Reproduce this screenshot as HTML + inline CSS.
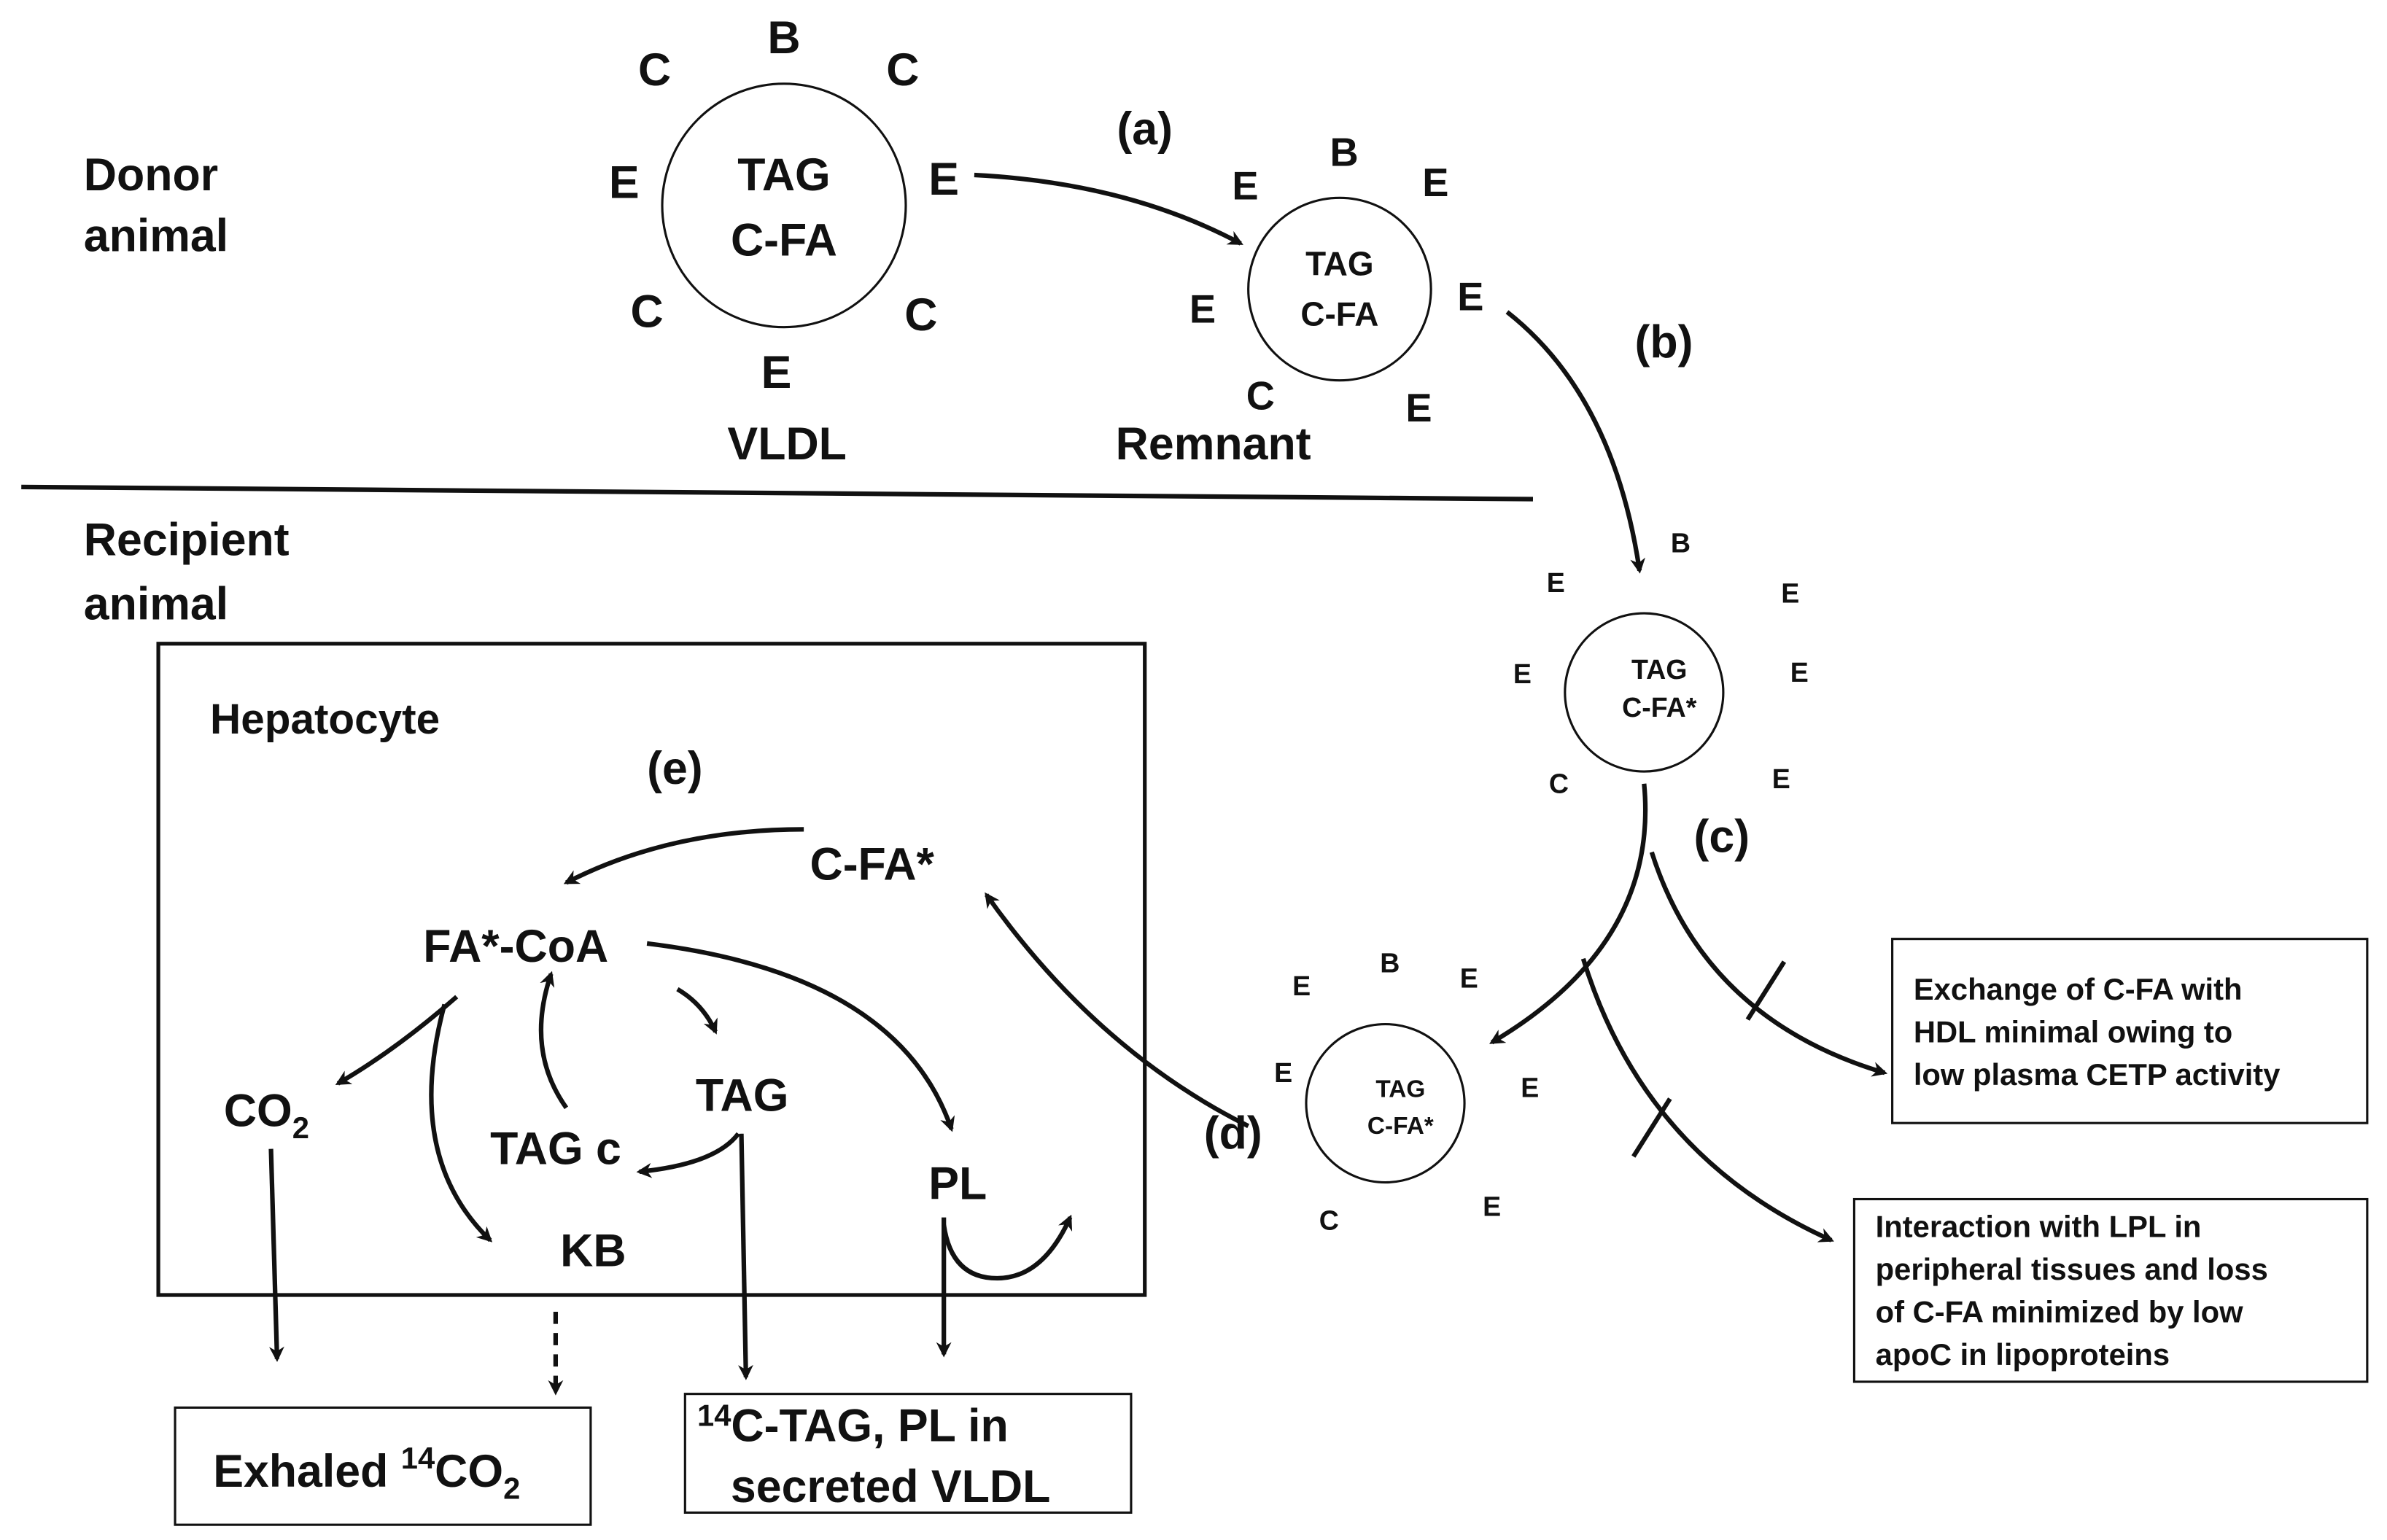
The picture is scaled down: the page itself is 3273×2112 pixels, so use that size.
<!DOCTYPE html>
<html><head><meta charset="utf-8"><style>
html,body{margin:0;padding:0;background:#fff;}
svg{display:block;}
text{font-family:"Liberation Sans","DejaVu Sans",sans-serif;font-weight:bold;fill:#111;}
</style></head><body>
<svg width="3273" height="2112" viewBox="0 0 1568 1012" preserveAspectRatio="none" xmlns="http://www.w3.org/2000/svg">
<defs>
<marker id="ah" markerWidth="10" markerHeight="10" refX="8" refY="5" orient="auto" markerUnits="userSpaceOnUse">
<path d="M0,0 L10,5 L0,10 L3,5 Z" fill="#111"/></marker>
</defs>
<g fill="none" stroke="#111" stroke-width="3">
<!-- top -->
<circle cx="515" cy="135" r="80" stroke-width="1.5"/>
<circle cx="880" cy="190" r="60" stroke-width="1.5"/>
<circle cx="1080" cy="455" r="52" stroke-width="1.5"/>
<circle cx="910" cy="725" r="52" stroke-width="1.5"/>
<path d="M640,115 Q740,120 815,160" marker-end="url(#ah)"/>
<path d="M990,205 Q1060,260 1077,375" marker-end="url(#ah)"/>
<line x1="14" y1="320" x2="1007" y2="328"/>
<path d="M1080,515 Q1090,620 980,685" marker-end="url(#ah)"/>
<path d="M1085,560 Q1120,670 1238,705" marker-end="url(#ah)"/>
<path d="M1040,630 Q1080,760 1203,815" marker-end="url(#ah)"/>
<line x1="1148" y1="670" x2="1172" y2="632"/>
<line x1="1073" y1="760" x2="1097" y2="722"/>
<path d="M820,740 Q720,690 648,588" marker-end="url(#ah)"/>
<!-- hepatocyte -->
<rect x="104" y="423" width="648" height="428" stroke-width="2.5"/>
<path d="M528,545 Q440,545 372,580" marker-end="url(#ah)"/>
<path d="M445,650 Q462,660 470,678" marker-end="url(#ah)"/>
<path d="M425,620 Q590,640 625,742" marker-end="url(#ah)"/>
<path d="M300,655 Q260,690 222,712" marker-end="url(#ah)"/>
<path d="M292,660 Q265,760 322,815" marker-end="url(#ah)"/>
<path d="M372,728 Q345,690 362,640" marker-end="url(#ah)"/>
<path d="M485,745 Q470,765 420,770" marker-end="url(#ah)"/>
<path d="M487,745 L490,905" marker-end="url(#ah)"/>
<path d="M178,755 L182,893" marker-end="url(#ah)"/>
<path d="M620,800 L620,890" marker-end="url(#ah)"/>
<path d="M620,805 Q625,840 655,840 Q685,840 703,800" marker-end="url(#ah)"/>
<path d="M365,862 L365,915" stroke-dasharray="8,6" marker-end="url(#ah)"/>
<rect x="115" y="925" width="273" height="77" stroke-width="1.5"/>
<rect x="450" y="916" width="293" height="78" stroke-width="1.5"/>
<rect x="1243" y="617" width="312" height="121" stroke-width="1.5"/>
<rect x="1218" y="788" width="337" height="120" stroke-width="1.5"/>
</g>
<g font-size="30" text-anchor="middle">
<text x="515" y="35">B</text><text x="430" y="56">C</text><text x="593" y="56">C</text>
<text x="410" y="130">E</text><text x="620" y="128">E</text>
<text x="425" y="215">C</text><text x="605" y="217">C</text><text x="510" y="255">E</text>
<text x="517" y="302">VLDL</text>
<text x="515" y="125">TAG</text><text x="515" y="168">C-FA</text>
<text x="752" y="95">(a)</text>
</g>
<g font-size="26" text-anchor="middle">
<text x="883" y="109">B</text><text x="818" y="131">E</text><text x="943" y="129">E</text>
<text x="790" y="212">E</text><text x="966" y="204">E</text><text x="828" y="269">C</text><text x="932" y="277">E</text>
<text x="797" y="302" font-size="30">Remnant</text>
<text x="1093" y="235" font-size="30">(b)</text>
<text x="1131" y="560" font-size="30">(c)</text>
<text x="810" y="755" font-size="30">(d)</text>
</g>
<g font-size="22" text-anchor="middle">
<text x="880" y="181">TAG</text><text x="880" y="214">C-FA</text>
</g>
<g font-size="18" text-anchor="middle">
<text x="1104" y="363">B</text><text x="1022" y="389">E</text><text x="1176" y="396">E</text>
<text x="1000" y="449">E</text><text x="1182" y="448">E</text><text x="1024" y="521">C</text><text x="1170" y="518">E</text>
<text x="1090" y="446" font-weight="normal">TAG</text><text x="1090" y="471" font-weight="normal">C-FA*</text>
<text x="855" y="654">E</text><text x="913" y="639">B</text><text x="965" y="649">E</text>
<text x="843" y="711">E</text><text x="1005" y="721">E</text><text x="873" y="808">C</text><text x="980" y="799">E</text>
<text x="920" y="721" font-size="16" font-weight="normal">TAG</text><text x="920" y="745" font-size="16" font-weight="normal">C-FA*</text>
</g>
<g font-size="30">
<text x="55" y="125">Donor</text><text x="55" y="165">animal</text>
<text x="55" y="365">Recipient</text><text x="55" y="407">animal</text>
<text x="138" y="482" font-size="28">Hepatocyte</text>
<text x="425" y="515">(e)</text>
<text x="532" y="578">C-FA*</text>
<text x="278" y="632">FA*-CoA</text>
<text x="147" y="740">CO<tspan font-size="20" dy="8">2</tspan></text>
<text x="322" y="765">TAG c</text>
<text x="457" y="730">TAG</text>
<text x="610" y="788">PL</text>
<text x="368" y="832">KB</text>
<text x="140" y="977">Exhaled <tspan font-size="20" dy="-12">14</tspan><tspan dy="12">CO</tspan><tspan font-size="20" dy="8">2</tspan></text>
<text x="458" y="947"><tspan font-size="20" dy="-10">14</tspan><tspan dy="10">C-TAG, PL in</tspan></text>
<text x="480" y="987">secreted VLDL</text>
</g>
<g font-size="20">
<text x="1257" y="657">Exchange of C-FA with</text>
<text x="1257" y="685">HDL minimal owing to</text>
<text x="1257" y="713">low plasma CETP activity</text>
<text x="1232" y="813">Interaction with LPL in</text>
<text x="1232" y="841">peripheral tissues and loss</text>
<text x="1232" y="869">of C-FA minimized by low</text>
<text x="1232" y="897">apoC in lipoproteins</text>
</g>
</svg>
</body></html>
